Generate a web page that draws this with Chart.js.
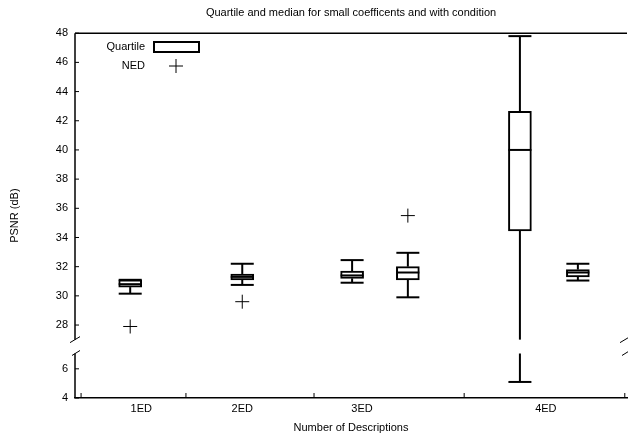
<!DOCTYPE html>
<html>
<head>
<meta charset="utf-8">
<script src="https://cdn.jsdelivr.net/npm/chart.js@4.4.1/dist/chart.umd.min.js"></script>
<style>
  html, body { margin: 0; padding: 0; background: #fff; }
  #wrap { width: 628px; height: 438px; }
</style>
</head>
<body>
<div id="wrap"><canvas id="psnrChart"></canvas></div>
<script>
// categories and where their labels / separators sit on the x axis
const categories = ['1ED', '2ED', '3ED', '4ED'];
const labelPos = [12, 30.3, 52, 85.3];
const tickPos = [1.1, 20.1, 43.3, 70.5, 99.6];

// quartile boxes (real PSNR values)
const boxPos = [10, 30.3, 50.2, 60.3, 80.6, 91.1];
const whiskerLow = [30.15, 30.75, 30.9, 29.9, 5.1, 31.05];
const q1 = [30.6, 31.1, 31.2, 31.1, 34.45, 31.3];
const median = [30.8, 31.3, 31.4, 31.6, 40.0, 31.6];
const q3 = [31.1, 31.5, 31.7, 32.0, 42.65, 31.8];
const whiskerHigh = [31.1, 32.2, 32.45, 32.95, 47.8, 32.2];

// NED points
const nedPos = [10, 30.3, 60.3];
const nedValues = [27.9, 29.6, 35.5];

const yTickLabels = [4, 6, 28, 30, 32, 34, 36, 38, 40, 42, 44, 46, 48];

// broken axis: values above 20 are shifted down so 27 sits just over 7
const shift = 19, breakLow = 7.05, breakHigh = 8;
const toAxis = v => v >= 20 ? v - shift : v;
const fromAxis = v => v > breakLow ? v + shift : v;

const FONT = '"Liberation Sans", Arial, sans-serif';
const boxWidth = 23;

const boxExtras = {
  id: 'boxExtras',
  afterDatasetsDraw(chart) {
    const { ctx, scales: { x, y } } = chart;
    const gapTop = y.getPixelForValue(breakHigh);
    const gapBottom = y.getPixelForValue(breakLow);
    const line = (x1, y1, x2, y2) => { ctx.beginPath(); ctx.moveTo(x1, y1); ctx.lineTo(x2, y2); ctx.stroke(); };
    const vseg = (px, a, b) => {
      const lo = Math.min(a, b), hi = Math.max(a, b);
      if (lo < gapTop && hi > gapBottom) {
        line(px, lo, px, gapTop);
        line(px, gapBottom, px, hi);
      } else {
        line(px, lo, px, hi);
      }
    };
    ctx.save();
    ctx.strokeStyle = '#000';
    ctx.lineWidth = 2;
    boxPos.forEach((pos, i) => {
      const cx = x.getPixelForValue(pos);
      const h = boxWidth / 2;
      const yHi = y.getPixelForValue(toAxis(whiskerHigh[i]));
      const yLo = y.getPixelForValue(toAxis(whiskerLow[i]));
      const yQ1 = y.getPixelForValue(toAxis(q1[i]));
      const yQ3 = y.getPixelForValue(toAxis(q3[i]));
      const yMed = y.getPixelForValue(toAxis(median[i]));
      vseg(cx, yQ3, yHi);
      vseg(cx, yQ1, yLo);
      line(cx - h, yHi, cx + h, yHi);
      line(cx - h, yLo, cx + h, yLo);
      line(cx - h, yMed, cx + h, yMed);
    });
    ctx.restore();
  },
  afterDraw(chart) {
    const { ctx, chartArea: a, scales: { x, y } } = chart;
    const gapTop = y.getPixelForValue(breakHigh);
    const gapBottom = y.getPixelForValue(breakLow);
    const line = (x1, y1, x2, y2) => { ctx.beginPath(); ctx.moveTo(x1, y1); ctx.lineTo(x2, y2); ctx.stroke(); };
    ctx.save();
    ctx.strokeStyle = '#000';
    ctx.lineWidth = 1.5;
    // top border and broken left axis
    line(a.left, a.top, a.right, a.top);
    line(a.left, a.top, a.left, gapTop);
    line(a.left, gapBottom, a.left, a.bottom);
    ctx.lineWidth = 1;
    // break marks
    [a.left, a.right - 2].forEach(bx => {
      line(bx - 5, gapTop + 3, bx + 5, gapTop - 3);
      line(bx - 3, gapBottom + 2, bx + 5, gapBottom - 3);
    });
    // inward ticks
    y.ticks.forEach(t => {
      const py = y.getPixelForValue(t.value);
      line(a.left, py, a.left + 4, py);
    });
    tickPos.forEach(v => {
      const px = x.getPixelForValue(v);
      line(px, a.bottom, px, a.bottom - 5);
    });
    // legend
    const ds = chart.data.datasets;
    ctx.fillStyle = '#000';
    ctx.font = '11px ' + FONT;
    ctx.textAlign = 'right';
    ctx.textBaseline = 'middle';
    ctx.fillText(ds[0].label, 145, 47);
    ctx.fillText(ds[1].label, 145, 66);
    ctx.lineWidth = 2;
    ctx.strokeRect(154, 42, 45, 10);
    ctx.lineWidth = 1;
    line(169, 66, 183, 66);
    line(176, 59, 176, 73);
    ctx.restore();
  }
};

new Chart(document.getElementById('psnrChart'), {
  type: 'bar',
  data: {
    datasets: [
      {
        label: 'Quartile',
        data: boxPos.map((p, i) => ({ x: p, y: [toAxis(q1[i]), toAxis(q3[i])] })),
        backgroundColor: '#fff',
        borderColor: '#000',
        borderWidth: 2,
        borderSkipped: false,
        barThickness: boxWidth,
        order: 2
      },
      {
        type: 'line',
        label: 'NED',
        data: nedPos.map((p, i) => ({ x: p, y: toAxis(nedValues[i]) })),
        showLine: false,
        pointStyle: 'cross',
        pointRadius: 7,
        pointBorderWidth: 1,
        borderColor: '#000',
        backgroundColor: '#000',
        order: 1
      }
    ]
  },
  options: {
    responsive: true,
    maintainAspectRatio: false,
    animation: false,
    layout: { autoPadding: false, padding: { left: 0, right: 1, top: 0, bottom: 0 } },
    plugins: {
      legend: { display: false },
      tooltip: { enabled: false },
      title: {
        display: true,
        fullSize: false,
        text: 'Quartile and median for small coefficents and with condition',
        color: '#000',
        font: { family: FONT, size: 11, weight: 'normal' },
        padding: { top: 6, bottom: 14 }
      }
    },
    scales: {
      x: {
        type: 'linear',
        min: 0,
        max: 100,
        offset: false,
        grid: { display: false, drawTicks: false },
        border: { display: true, color: '#000', width: 1.5 },
        afterBuildTicks: s => { s.ticks = labelPos.map(v => ({ value: v })); },
        afterFit: s => { s.height = 40; },
        ticks: {
          color: '#000',
          font: { family: FONT, size: 11 },
          padding: 4,
          maxRotation: 0,
          autoSkip: false,
          callback: (v, i) => categories[i]
        },
        title: {
          display: true,
          text: 'Number of Descriptions',
          color: '#000',
          font: { family: FONT, size: 11 },
          padding: { top: 2, bottom: 3 }
        }
      },
      y: {
        min: 4,
        max: toAxis(48),
        grid: { display: false, drawTicks: false },
        border: { display: false },
        afterBuildTicks: s => { s.ticks = yTickLabels.map(v => ({ value: toAxis(v) })); },
        afterFit: s => { s.width = 75; },
        ticks: {
          color: '#000',
          font: { family: FONT, size: 11 },
          padding: 7,
          autoSkip: false,
          callback: v => fromAxis(v)
        },
        title: {
          display: true,
          text: 'PSNR (dB)',
          color: '#000',
          font: { family: FONT, size: 11 },
          padding: { top: 8, bottom: 0 }
        }
      }
    }
  },
  plugins: [boxExtras]
});
</script>
</body>
</html>
